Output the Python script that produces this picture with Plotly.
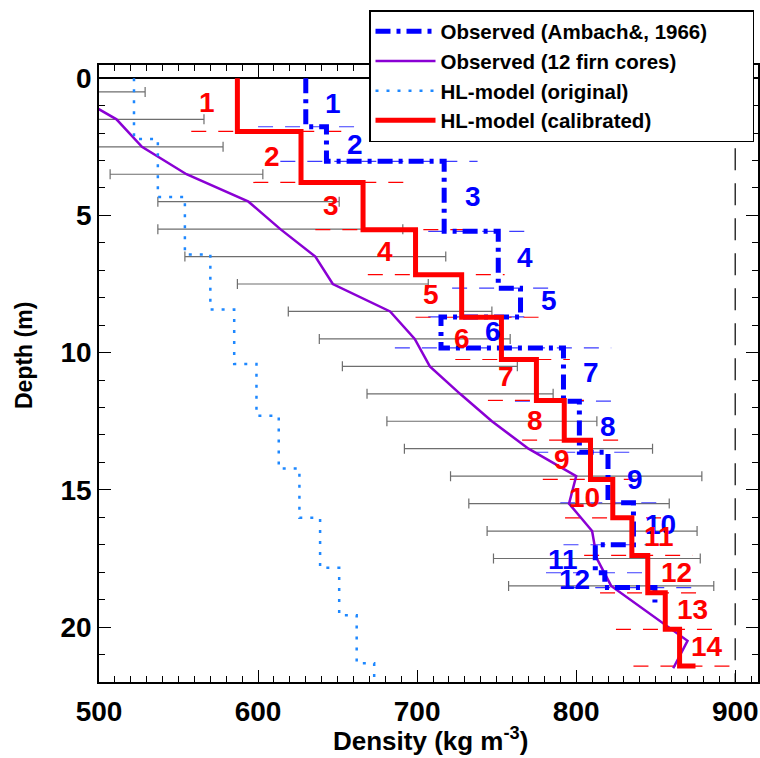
import plotly.graph_objects as go

# ---------------- data ----------------
# Observed (Ambach, 1966): layer boundary depths (m) and layer densities (kg m-3)
amb_depth = [0, 1.77, 3.03, 5.58, 7.65, 8.70, 9.83, 11.77, 13.63, 15.47, 17.00, 18.02, 18.56, 19.10]
amb_density = [630, 643, 717, 751, 765, 715, 792, 802, 820, 836, 812, 818, 849.5, 849.5]
amb_lo = [600, 614, 707, 722, 707, 686, 761.5, 773, 790, 792, 781, 795]
amb_hi = [667, 738, 774, 788, 773, 822, 828.5, 840, 857, 858, 847, 873]
amb_label_x = [647, 661, 735, 768, 783, 748, 809, 820, 837, 853, 792, 799]
amb_label_y = [0.91, 2.43, 4.31, 6.55, 8.10, 9.22, 10.74, 12.68, 14.62, 16.26, 17.54, 18.26]

# Observed (12 firn cores)
firn_depth = [0.5, 1.5, 2.5, 3.5, 4.5, 5.5, 6.5, 7.5, 8.5, 9.5, 10.5, 11.5,
              12.5, 13.5, 14.5, 15.5, 16.5, 17.5, 18.5, 19.5, 20.5, 21.5]
firn_density = [481, 511, 527, 555, 594, 614, 636, 647, 683, 698.5, 708, 727,
                747, 770, 800, 795.5, 810, 813, 822, 846, 870, 861]
firn_err = [48, 55, 51, 48, 57, 77, 82, 60, 64, 60, 55, 58.5,
            66, 78, 79, 63, 66, 65, 64.5]

# HL-model (original)
orig_depth = [0, 2.22, 4.33, 6.42, 8.43, 10.41, 12.30, 14.22, 16.02, 17.84, 19.57, 21.32, 22.0]
orig_density = [522, 537, 554, 570, 585, 599, 613, 626, 639, 651, 662, 673, 673]

# HL-model (calibrated)
cal_depth = [0, 1.94, 3.80, 5.52, 7.16, 8.71, 10.25, 11.74, 13.19, 14.62, 16.02, 17.39, 18.75, 20.08, 21.42]
cal_density = [587, 627, 666, 699, 728, 753, 775, 792.5, 809, 823, 835, 845, 856, 865, 875]
cal_lo = [558, 597, 636, 669, 699, 724, 744.5, 766, 779, 793, 805, 815, 825, 836]
cal_hi = [658, 696, 735, 755, 783.5, 796, 812, 829, 846, 854.5, 873, 882, 892, 902]
cal_label_x = [568, 609, 646, 680, 709, 728, 756, 774, 791, 805.5, 852, 863, 873, 882]
cal_label_y = [0.90, 2.86, 4.65, 6.32, 7.89, 9.47, 10.86, 12.46, 13.90, 15.29, 16.71, 18.02, 19.36, 20.69]

ref_density = 900
x_range = [500, 914.3]
y_range = [22, -0.48]

FONT = "Liberation Sans, Arial, Helvetica, sans-serif"
RED = "#ff0000"
BLUE = "#0000ff"


def segments(lo, hi, depth):
    xs, ys = [], []
    for a, b, z in zip(lo, hi, depth):
        xs += [a, b, None]
        ys += [z, z, None]
    return xs, ys


fig = go.Figure()

# gray spread bars of the firn cores
n_err = len(firn_err)
fig.add_trace(go.Scatter(
    x=firn_density[:n_err], y=firn_depth[:n_err], mode="markers",
    marker=dict(size=1, color="rgba(0,0,0,0)"),
    error_x=dict(type="data", array=firn_err, color="#6e6e6e", thickness=1.2, width=5),
    showlegend=False, hoverinfo="skip"))

# thin dashed boundary lines
bx, by = segments(amb_lo, amb_hi, amb_depth[1:])
fig.add_trace(go.Scatter(x=bx, y=by, mode="lines", showlegend=False, hoverinfo="skip",
                         line=dict(color="rgb(60,60,255)", width=1.2, dash="15px,12px")))
rx, ry = segments(cal_lo, cal_hi, cal_depth[1:])
fig.add_trace(go.Scatter(x=rx, y=ry, mode="lines", showlegend=False, hoverinfo="skip",
                         line=dict(color=RED, width=1.2, dash="15px,12px")))

# reference vertical dashed line
fig.add_trace(go.Scatter(x=[ref_density, ref_density], y=[0, y_range[0]], mode="lines",
                         showlegend=False, hoverinfo="skip",
                         line=dict(color="#333333", width=1.5, dash="22px,13px")))

# main curves
fig.add_trace(go.Scatter(x=firn_density, y=firn_depth, mode="lines",
                         name="Observed (12 firn cores)", legendrank=2,
                         line=dict(color="#8a00d4", width=2.5)))
fig.add_trace(go.Scatter(x=orig_density, y=orig_depth, mode="lines", line_shape="vh",
                         name="HL-model (original)", legendrank=3,
                         line=dict(color="#1e88ff", width=2.5, dash="3px,8px")))
fig.add_trace(go.Scatter(x=amb_density, y=amb_depth, mode="lines", line_shape="vh",
                         name="Observed (Ambach&, 1966)" + "\u00a0" * 7, legendrank=1,
                         line=dict(color=BLUE, width=5, dash="15px,6px,4px,6px")))
fig.add_trace(go.Scatter(x=cal_density, y=cal_depth, mode="lines", line_shape="vh",
                         name="HL-model (calibrated)", legendrank=4,
                         line=dict(color=RED, width=5)))

annotations = []
for i, (x, y) in enumerate(zip(amb_label_x, amb_label_y)):
    annotations.append(dict(x=x, y=y, xref="x", yref="y", text=str(i + 1), showarrow=False,
                            xanchor="center", yanchor="middle",
                            font=dict(color=BLUE, size=28, family=FONT, weight="bold")))
for i, (x, y) in enumerate(zip(cal_label_x, cal_label_y)):
    annotations.append(dict(x=x, y=y, xref="x", yref="y", text=str(i + 1), showarrow=False,
                            xanchor="center", yanchor="middle",
                            font=dict(color=RED, size=28, family=FONT, weight="bold")))

L, R, T, B, W, H = 99, 2, 65, 76, 760, 758
pw, ph = W - L - R, H - T - B

# axis titles placed by pixel centre
annotations.append(dict(x=(430 - L) / pw, y=(H - B - 739) / ph, xref="paper", yref="paper",
                        xanchor="center", yanchor="middle",
                        text="Density (kg m<sup>-3</sup>)", showarrow=False,
                        font=dict(size=26, color="black", family=FONT, weight="bold")))
annotations.append(dict(x=(24 - L) / pw, y=(H - B - 356) / ph, xref="paper", yref="paper",
                        xanchor="center", yanchor="middle",
                        textangle=-90, text="Depth (m)", showarrow=False,
                        font=dict(size=23, color="black", family=FONT, weight="bold")))

axis_common = dict(showline=True, linecolor="black", linewidth=1.5, mirror="ticks",
                   ticks="inside", ticklen=12, tickwidth=1.2, tickcolor="black", automargin=False,
                   showgrid=False, tickfont=dict(size=28, color="black", family=FONT, weight="bold"))

fig.update_layout(
    width=W, height=H,
    margin=dict(l=L, r=R, t=T, b=B, autoexpand=False),
    paper_bgcolor="white", plot_bgcolor="white",
    font=dict(family=FONT, color="black", weight="bold"),
    xaxis=dict(range=x_range, tick0=500, dtick=100, zeroline=False,
               minor=dict(ticks="inside", ticklen=6, dtick=10, tickcolor="black", tickwidth=1),
               ticklabelstandoff=4, **axis_common),
    yaxis=dict(range=y_range, tick0=0, dtick=5, zeroline=True, zerolinecolor="black", zerolinewidth=1.5,
               minor=dict(ticks="inside", ticklen=6, dtick=1, tickcolor="black", tickwidth=1),
               ticklabelstandoff=0, **axis_common),
    legend=dict(x=(369 - L) / pw, y=(H - B - 10) / ph, xanchor="left", yanchor="top",
                bgcolor="white", bordercolor="black", borderwidth=1.5,
                font=dict(size=20.5, family=FONT, color="black", weight="bold"),
                itemwidth=60, tracegroupgap=0),
    annotations=annotations,
    showlegend=True,
)

fig.write_html("out.html", config={"displayModeBar": False},
               post_script="document.body.style.margin='0px';")
